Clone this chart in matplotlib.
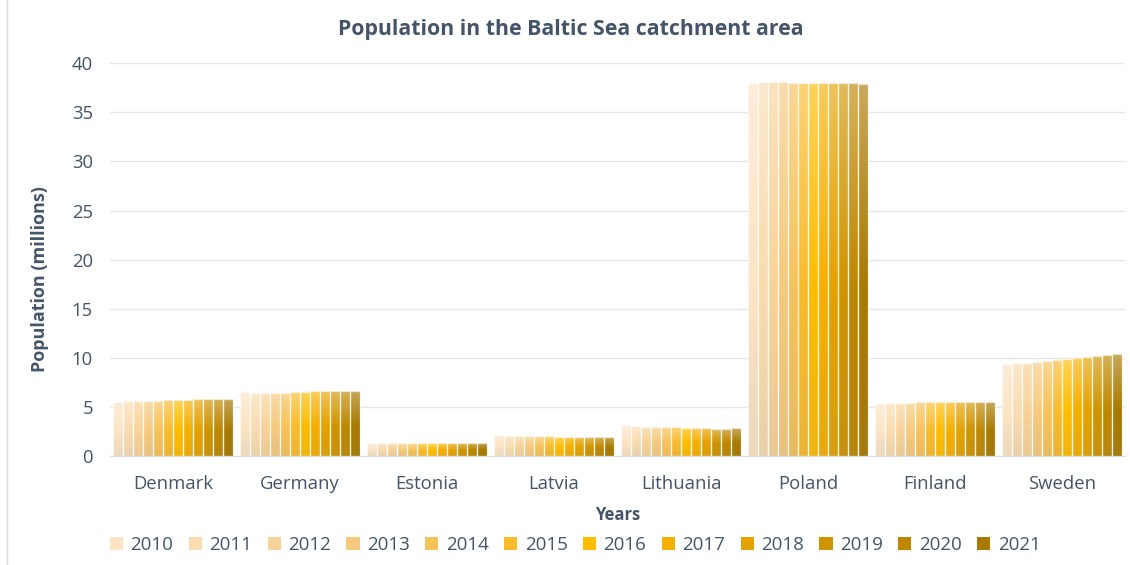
import matplotlib.pyplot as plt
import matplotlib.colors as mcolors
from matplotlib.patches import Patch
from matplotlib.lines import Line2D
import numpy as np

plt.rcParams['font.family'] = ['Open Sans', 'DejaVu Sans']

# Datos
paises = ["Denmark", "Germany", "Estonia", "Latvia", "Lithuania", "Poland", "Finland", "Sweden"]
anios = [str(a) for a in range(2010, 2022)]
poblacion = {
    "Denmark":   [5.53, 5.56, 5.58, 5.60, 5.63, 5.66, 5.71, 5.75, 5.78, 5.81, 5.82, 5.84],
    "Germany":   [6.52, 6.38, 6.40, 6.42, 6.43, 6.48, 6.55, 6.58, 6.60, 6.62, 6.64, 6.66],
    "Estonia":   [1.33, 1.33, 1.33, 1.32, 1.32, 1.31, 1.32, 1.32, 1.32, 1.32, 1.33, 1.33],
    "Latvia":    [2.12, 2.07, 2.04, 2.02, 2.00, 1.99, 1.97, 1.95, 1.93, 1.92, 1.91, 1.89],
    "Lithuania": [3.14, 3.05, 3.00, 2.97, 2.94, 2.92, 2.89, 2.85, 2.81, 2.79, 2.79, 2.80],
    "Poland":    [38.02, 38.06, 38.06, 38.06, 38.02, 38.01, 37.97, 37.97, 37.98, 37.97, 37.96, 37.84],
    "Finland":   [5.35, 5.38, 5.40, 5.43, 5.45, 5.47, 5.49, 5.50, 5.51, 5.52, 5.53, 5.53],
    "Sweden":    [9.34, 9.42, 9.48, 9.56, 9.64, 9.75, 9.85, 9.99, 10.12, 10.23, 10.33, 10.38],
}
colores = ["#FCE4C4", "#F9DCB0", "#F8D399", "#F6CA7E", "#F7C25A", "#F9BB2C",
           "#FFBC00", "#F5AF00", "#E4A200", "#D09400", "#BE8700", "#A87A00"]

texto = "#44546A"

fig = plt.figure(figsize=(11.3, 5.65), dpi=100)
ax = fig.add_axes([0.097, 0.193, 0.899, 0.695])

n = len(anios)
grupo = 0.94
ancho = grupo / n
x = np.arange(len(paises))


def degradado(color):
    c = np.array(mcolors.to_rgb(color))
    claro = c + (1 - c) * 0.35
    oscuro = c * 0.88 + np.array([0.5, 0.5, 0.5]) * 0.12
    t = np.linspace(0, 1, 64)[:, None]
    # arriba claro -> centro color base -> abajo algo mas oscuro
    arriba = claro + (c - claro) * np.clip(t / 0.55, 0, 1)
    abajo = c + (oscuro - c) * np.clip((t - 0.55) / 0.45, 0, 1)
    img = np.where(t < 0.55, arriba, abajo)
    return img[:, None, :]


for i, anio in enumerate(anios):
    valores = [poblacion[p][i] for p in paises]
    pos = x - grupo / 2 + ancho * (i + 0.5)
    barras = ax.bar(pos, valores, width=ancho, color=colores[i],
                    edgecolor=(1, 1, 1, 0.7), linewidth=0.9, zorder=2)
    img = degradado(colores[i])
    for r in barras:
        x0, y0 = r.get_x(), r.get_y()
        im = ax.imshow(img, extent=(x0, x0 + r.get_width(), y0, y0 + r.get_height()),
                       aspect='auto', zorder=2.5, interpolation='bilinear')
        im.set_clip_path(r)
    ax.bar(pos, valores, width=ancho, facecolor='none',
           edgecolor=(1, 1, 1, 0.7), linewidth=0.9, zorder=3)

ax.set_aspect('auto')
ax.set_xlim(-0.5, len(paises) - 0.5)
ax.set_ylim(0, 40)
ax.set_yticks(range(0, 41, 5))
ax.set_xticks(x)
ax.set_xticklabels(paises)
ax.tick_params(axis='both', length=0, labelsize=13.3, colors=texto)
ax.tick_params(axis='y', pad=12)
ax.tick_params(axis='x', pad=14)
ax.yaxis.grid(True, color="#E4E4EA", linewidth=1, zorder=0)
ax.set_axisbelow(True)
for s in ["top", "right", "left"]:
    ax.spines[s].set_visible(False)
ax.spines["bottom"].set_color("#DCDCE4")

fig.text(0.505, 0.948, "Population in the Baltic Sea catchment area", fontsize=15.3,
         fontweight='bold', color=texto, ha='center', va='center')
ax.set_ylabel("Population (millions)", fontsize=13, fontweight='bold', color=texto)
ax.yaxis.set_label_coords(-0.060, 0.45)
ax.set_xlabel("Years", fontsize=12, fontweight='bold', color=texto, labelpad=9)

handles = [Patch(facecolor=colores[i], edgecolor='none') for i in range(n)]
fig.legend(handles, anios, loc='center', bbox_to_anchor=(0.509, 0.035), ncol=n,
           frameon=False, fontsize=13.5, labelcolor=texto, handlelength=0.7,
           handleheight=0.7, handletextpad=0.4, columnspacing=0.82)

fig.add_artist(Line2D([7 / 1130, 7 / 1130], [0, 1], color="#D9D9DF", linewidth=1))

fig.savefig("out.png", dpi=100)
